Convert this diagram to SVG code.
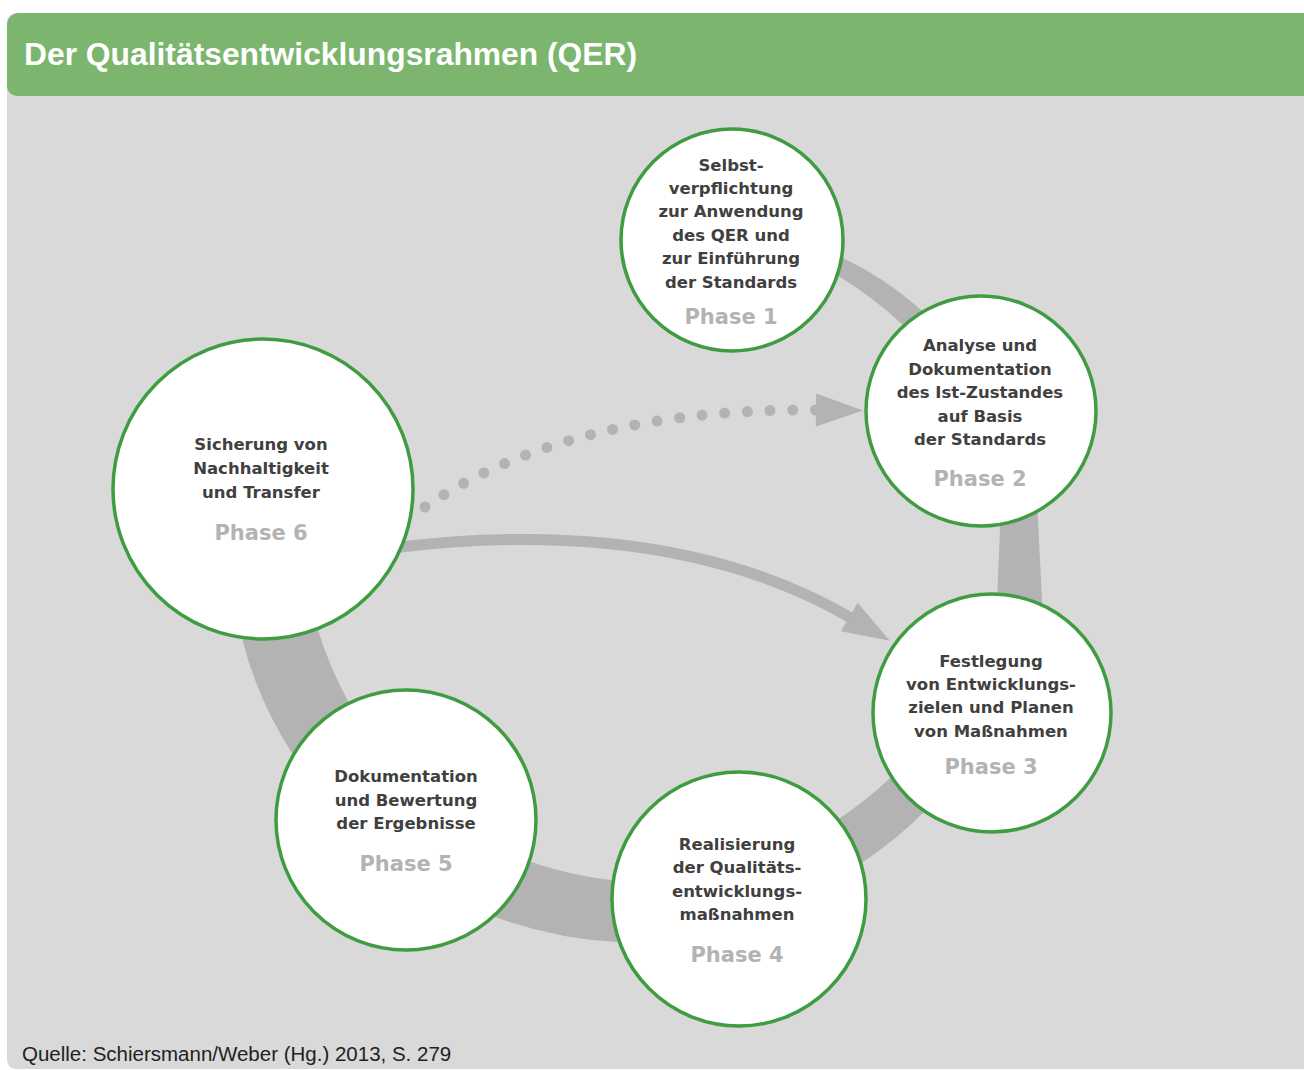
<svg xmlns="http://www.w3.org/2000/svg" width="1304" height="1070" viewBox="0 0 1304 1070">
<defs>
<style>
.node circle{fill:#fff;stroke:#3f9c41;stroke-width:3.5}
.lbl{font-family:"DejaVu Sans","Liberation Sans",sans-serif;font-weight:bold;font-size:16.5px;fill:#404040;text-anchor:middle}
.ph{font-family:"DejaVu Sans","Liberation Sans",sans-serif;font-weight:bold;font-size:21px;fill:#b3b3b3;text-anchor:middle}
.arrow{fill:none;stroke:#b3b3b3;stroke-width:11}
</style>
<marker id="ah" markerUnits="userSpaceOnUse" viewBox="0 0 47 33" markerWidth="47" markerHeight="33" refX="2" refY="16.5" orient="auto" overflow="visible">
<path d="M0,0 L47,16.5 L0,33 Z" fill="#b3b3b3"/>
</marker>
</defs>
<rect x="0" y="0" width="1304" height="1070" fill="#fff"/>
<rect x="7" y="13" width="1320" height="1056" rx="9" fill="#d9d9d9"/>
<path d="M7,25 A12,12 0 0 1 19,13 H1320 V96 H17 A10,10 0 0 1 7,86 Z" fill="#7bb56e"/>
<text x="24" y="65" font-family="Liberation Sans, Arial, sans-serif" font-weight="bold" font-size="31.8" fill="#fff">Der Qualitätsentwicklungsrahmen (QER)</text>

<g id="connectors">
<path id="cycle" fill="#b3b3b3" d="M 790 232 L 843 258 Q 885 278 920 309 C 967 346 1034 450 1038 520 L 1042 600 C 1047 670 977 769 923 813 Q 896 840 863 862 C 817 900 676 954 617 942 Q 556 939 495 917 C 428 896 320 817 292 753 Q 257 699 242 638 L 228 560 L 300 552 L 318 630 Q 329 666 349 703 C 374 757 476 839 531 862 Q 569 875 610 880 C 669 886 793 855 840 818 Q 867 800 890 778 C 937 741 995 660 997 600 L 1000 530 C 1000 470 948 365 903 325 Q 874 298 840 277 L 786 250 Z"/>
<path id="arrow-6-3" class="arrow" d="M 392 548 C 520 532 700 530 851 618" marker-end="url(#ah)"/>
<path id="arrow-6-2" class="arrow" d="M 425 507 C 490 462 610 408 818 410" stroke-dasharray="0 22.7" stroke-linecap="round" marker-end="url(#ah)"/>
</g>

<g id="phase1" class="node">
<circle cx="732" cy="240" r="111"/>
<text class="lbl" x="731" y="171">Selbst-</text>
<text class="lbl" x="731" y="194">verpflichtung</text>
<text class="lbl" x="731" y="217">zur Anwendung</text>
<text class="lbl" x="731" y="241">des QER und</text>
<text class="lbl" x="731" y="264">zur Einführung</text>
<text class="lbl" x="731" y="288">der Standards</text>
<text class="ph" x="731" y="324">Phase 1</text>
</g>

<g id="phase2" class="node">
<circle cx="981" cy="411" r="115"/>
<text class="lbl" x="980" y="351">Analyse und</text>
<text class="lbl" x="980" y="375">Dokumentation</text>
<text class="lbl" x="980" y="398">des Ist-Zustandes</text>
<text class="lbl" x="980" y="422">auf Basis</text>
<text class="lbl" x="980" y="445">der Standards</text>
<text class="ph" x="980" y="486">Phase 2</text>
</g>

<g id="phase3" class="node">
<circle cx="992" cy="713" r="119"/>
<text class="lbl" x="991" y="667">Festlegung</text>
<text class="lbl" x="991" y="690">von Entwicklungs-</text>
<text class="lbl" x="991" y="713">zielen und Planen</text>
<text class="lbl" x="991" y="737">von Maßnahmen</text>
<text class="ph" x="991" y="774">Phase 3</text>
</g>

<g id="phase4" class="node">
<circle cx="739" cy="899" r="127"/>
<text class="lbl" x="737" y="850">Realisierung</text>
<text class="lbl" x="737" y="873">der Qualitäts-</text>
<text class="lbl" x="737" y="897">entwicklungs-</text>
<text class="lbl" x="737" y="920">maßnahmen</text>
<text class="ph" x="737" y="962">Phase 4</text>
</g>

<g id="phase5" class="node">
<circle cx="406" cy="820" r="130"/>
<text class="lbl" x="406" y="782">Dokumentation</text>
<text class="lbl" x="406" y="806">und Bewertung</text>
<text class="lbl" x="406" y="829">der Ergebnisse</text>
<text class="ph" x="406" y="871">Phase 5</text>
</g>

<g id="phase6" class="node">
<circle cx="263" cy="489" r="150"/>
<text class="lbl" x="261" y="450">Sicherung von</text>
<text class="lbl" x="261" y="474">Nachhaltigkeit</text>
<text class="lbl" x="261" y="498">und Transfer</text>
<text class="ph" x="261" y="540">Phase 6</text>
</g>

<text x="22" y="1061" font-family="Liberation Sans, Arial, sans-serif" font-size="20.5" fill="#222">Quelle: Schiersmann/Weber (Hg.) 2013, S. 279</text>
</svg>
